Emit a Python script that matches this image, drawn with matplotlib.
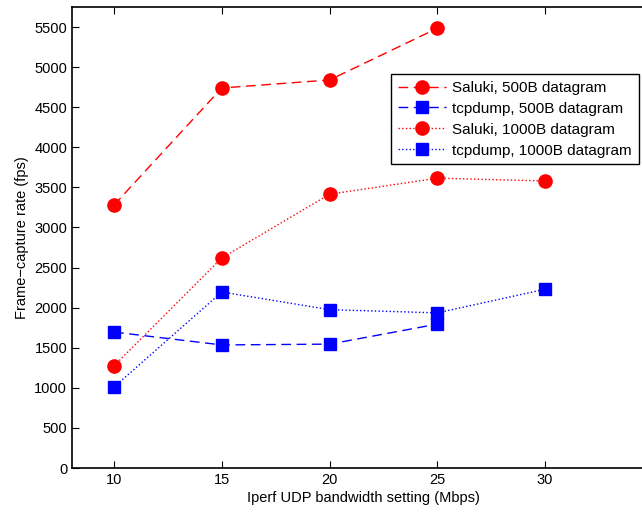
import numpy as np
import matplotlib.pyplot as plt

plt.rcParams['font.family'] = ['Liberation Sans', 'DejaVu Sans']
plt.rcParams['font.size'] = 10.5

bandwidth = [10, 15, 20, 25, 30]
saluki_500 = [3280, 4740, 4840, 5485]
tcpdump_500 = [1695, 1535, 1545, 1795]
saluki_1000 = [1275, 2620, 3415, 3615, 3580]
tcpdump_1000 = [1010, 2195, 1975, 1935, 2230]

fig = plt.figure(figsize=(6.42, 5.13), dpi=100)
ax = fig.add_axes([72 / 642, 45 / 513, 582 / 642, 461 / 513])

ax.plot(bandwidth[:4], saluki_500, 'r--', marker='o', markersize=9.5, lw=1,
        dashes=(7, 4), label="Saluki, 500B datagram")
ax.plot(bandwidth[:4], tcpdump_500, 'b--', marker='s', markersize=8, lw=1,
        dashes=(7, 4), label="tcpdump, 500B datagram")
ax.plot(bandwidth, saluki_1000, 'r:', marker='o', markersize=9.5, lw=1,
        label="Saluki, 1000B datagram")
ax.plot(bandwidth, tcpdump_1000, 'b:', marker='s', markersize=8, lw=1,
        label="tcpdump, 1000B datagram")

ax.set_xlim(8.05, 35.05)
ax.set_ylim(0, 5750)
ax.set_xticks([10, 15, 20, 25, 30])
ax.set_yticks(np.arange(0, 5501, 500))
ax.tick_params(direction='in', length=5, top=True, right=True, width=0.8)
for s in ax.spines.values():
    s.set_linewidth(1.2)
ax.set_xlabel("Iperf UDP bandwidth setting (Mbps)", labelpad=3)
ax.set_ylabel("Frame\u2212capture rate (fps)")

ax.legend(loc='upper right', bbox_to_anchor=(639 / 642, 1 - 74 / 513),
          bbox_transform=fig.transFigure, fancybox=False, edgecolor='black',
          framealpha=1, borderaxespad=0, handlelength=3.1, labelspacing=0.45,
          borderpad=0.45, handletextpad=0.45, fontsize=11)

plt.savefig("out.png", dpi=100)
